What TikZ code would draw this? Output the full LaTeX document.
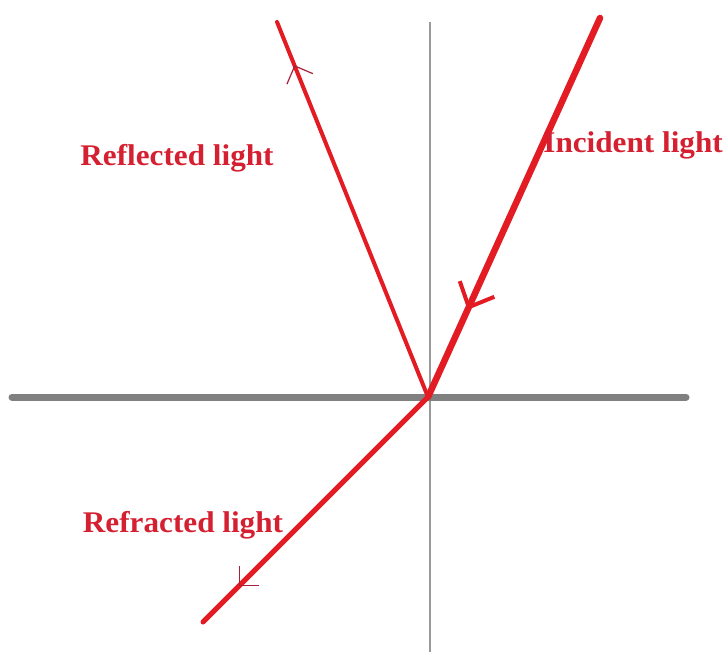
\documentclass[tikz,border=0pt]{standalone}
\usepackage{fontspec}
\setmainfont{Liberation Serif}
\newfontfamily\lblfont[FakeStretch=1.04]{Liberation Serif}
\usetikzlibrary{arrows.meta,decorations.markings}
\definecolor{rayred}{HTML}{E31B23}
\definecolor{txtred}{HTML}{D42030}
\definecolor{tipred}{HTML}{A8203A}
\definecolor{surf}{HTML}{808080}
\definecolor{normalc}{HTML}{9A9A9A}
\tikzset{
  ray/.style={draw=rayred, line cap=round},
  lbl/.style={text=txtred, font=\lblfont\fontsize{30}{32}\selectfont\bfseries, inner sep=0pt},
  tipmark/.style n args={4}{postaction={decorate,decoration={markings,
     mark=at position #1 with {\arrow{Straight Barb[length=#2pt,width=#3pt,line width=#4pt]}}}}}
}
\begin{document}
\begin{tikzpicture}[x=1pt,y=-1pt]
\useasboundingbox (0,0) rectangle (727,652);
\coordinate (O) at (428,397);
\coordinate (I) at (600,18);
\coordinate (Rf) at (277,22);
\coordinate (Rr) at (203,622);
\coordinate (SL) at (12,397);
\coordinate (SR) at (686,397);
\coordinate (NT) at (430,22);
\coordinate (NB) at (430,652);
% normal and surface
\draw[normalc, line width=1.5pt] (NT) -- (NB);
\draw[surf, line width=7pt, line cap=round] (SL) -- (SR);
% rays
\draw[ray, line width=6.5pt, tipmark={0.77}{20}{38}{4}] (I) -- (O);
\draw[ray, line width=4pt] (O) -- (Rf);
\path[tipmark={0.885}{14}{28}{1.2}, draw=none, tipred] (O) -- (Rf);
\draw[ray, line width=5pt] (O) -- (Rr);
\path[tipmark={0.84}{14}{28}{1.2}, draw=none, tipred] (O) -- (Rr);
% labels
\node[lbl] (lrf) at (177,158) {Reflected light};
\node[lbl, anchor=east] (lin) at (723,145) {Incident light};
\node[lbl] (lrr) at (183,525) {Refracted light};
\end{tikzpicture}
\end{document}
